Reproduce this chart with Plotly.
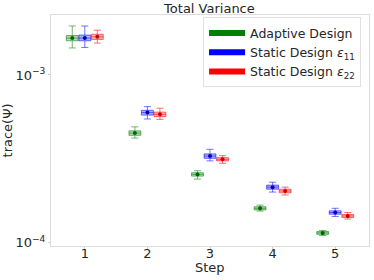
import plotly.graph_objects as go

steps = [1, 2, 3, 4, 5]

adaptive_median = [1.66e-3, 4.50e-4, 2.55e-4, 1.60e-4, 1.14e-4]
adaptive_q1 = [1.60e-3, 4.36e-4, 2.49e-4, 1.565e-4, 1.118e-4]
adaptive_q3 = [1.72e-3, 4.64e-4, 2.61e-4, 1.635e-4, 1.162e-4]
adaptive_low = [1.45e-3, 4.20e-4, 2.39e-4, 1.54e-4, 1.10e-4]
adaptive_high = [1.96e-3, 4.90e-4, 2.68e-4, 1.67e-4, 1.18e-4]

static11_median = [1.66e-3, 5.96e-4, 3.28e-4, 2.14e-4, 1.51e-4]
static11_q1 = [1.60e-3, 5.76e-4, 3.18e-4, 2.08e-4, 1.475e-4]
static11_q3 = [1.73e-3, 6.15e-4, 3.38e-4, 2.20e-4, 1.545e-4]
static11_low = [1.46e-3, 5.46e-4, 3.07e-4, 2.00e-4, 1.43e-4]
static11_high = [1.96e-3, 6.47e-4, 3.60e-4, 2.29e-4, 1.60e-4]

static22_median = [1.69e-3, 5.82e-4, 3.14e-4, 2.03e-4, 1.44e-4]
static22_q1 = [1.63e-3, 5.64e-4, 3.07e-4, 1.98e-4, 1.41e-4]
static22_q3 = [1.75e-3, 6.00e-4, 3.21e-4, 2.08e-4, 1.47e-4]
static22_low = [1.55e-3, 5.43e-4, 2.97e-4, 1.92e-4, 1.38e-4]
static22_high = [1.85e-3, 6.33e-4, 3.30e-4, 2.14e-4, 1.51e-4]

ytick_vals = [1e-4, 1e-3]
ytick_text = ["10<sup>−4</sup>", "10<sup>−3</sup>"]

series = [
    ("Adaptive Design", -0.2, adaptive_q1, adaptive_median, adaptive_q3, adaptive_low, adaptive_high,
     (0, 128, 0), "#006400"),
    ("Static Design <i>ε</i><sub>11</sub>", 0.0, static11_q1, static11_median, static11_q3, static11_low, static11_high,
     (0, 0, 255), "#0000b0"),
    ("Static Design <i>ε</i><sub>22</sub>", 0.2, static22_q1, static22_median, static22_q3, static22_low, static22_high,
     (255, 0, 0), "#d00000"),
]

fig = go.Figure()
for name, off, q1, med, q3, lo, hi, rgb, dark in series:
    xs = [s + off for s in steps]
    r, g, b = rgb
    fig.add_trace(go.Box(
        x=xs, q1=q1, median=med, q3=q3, lowerfence=lo, upperfence=hi,
        width=0.19, whiskerwidth=0.6,
        fillcolor=f"rgba({r},{g},{b},0.3)",
        line=dict(color=f"rgba({r},{g},{b},0.55)", width=1),
        showlegend=False, hoverinfo="skip",
    ))
    fig.add_trace(go.Scatter(
        x=xs, y=med, mode="markers",
        marker=dict(color=dark, size=4, symbol="circle"),
        showlegend=False, hoverinfo="skip",
    ))
    fig.add_trace(go.Scatter(
        x=[None], y=[None], mode="lines", name=name,
        line=dict(color=f"rgb({r},{g},{b})", width=6),
    ))

fig.update_layout(
    width=374, height=280,
    margin=dict(l=51, r=5, t=15, b=34, autoexpand=False),
    paper_bgcolor="white", plot_bgcolor="white",
    font=dict(family="DejaVu Sans", size=13, color="#262626"),
    boxmode="overlay",
    title=dict(text="Total Variance", x=0.56, xanchor="center", y=0.985, yanchor="top",
               font=dict(size=13, color="#262626")),
    legend=dict(x=0.975, xanchor="right", y=0.99, yanchor="top",
                bgcolor="rgba(255,255,255,0.9)", bordercolor="#e0e0e0", borderwidth=1,
                font=dict(size=12.5), itemwidth=36, tracegroupgap=0),
    xaxis=dict(range=[0.46, 5.54], tickvals=steps, ticktext=[str(s) for s in steps],
               automargin=False, ticklabelstandoff=-8,
               showgrid=False, zeroline=False, showline=True, mirror=True,
               linecolor="#dcdcdc", linewidth=1, ticks="outside", ticklen=3, tickcolor="#cccccc",
               tickfont=dict(size=13)),
    yaxis=dict(type="log", range=[-4.021, -2.642], tickvals=ytick_vals, ticktext=ytick_text,
               automargin=False,
               showgrid=False, zeroline=False, showline=True, mirror=True,
               linecolor="#dcdcdc", linewidth=1, ticks="outside", ticklen=2, tickcolor="#cccccc",
               title=dict(text="trace(Ψ)", standoff=0, font=dict(size=13)),
               tickfont=dict(size=13)),
    annotations=[dict(text="Step", xref="paper", yref="paper", x=0.5, y=-0.095,
                      xanchor="center", yanchor="middle", showarrow=False,
                      font=dict(size=13, color="#262626"))],
)

fig.write_html("out.html", config={"displayModeBar": False},
               post_script="document.body.style.margin='0';document.body.style.padding='0';")
